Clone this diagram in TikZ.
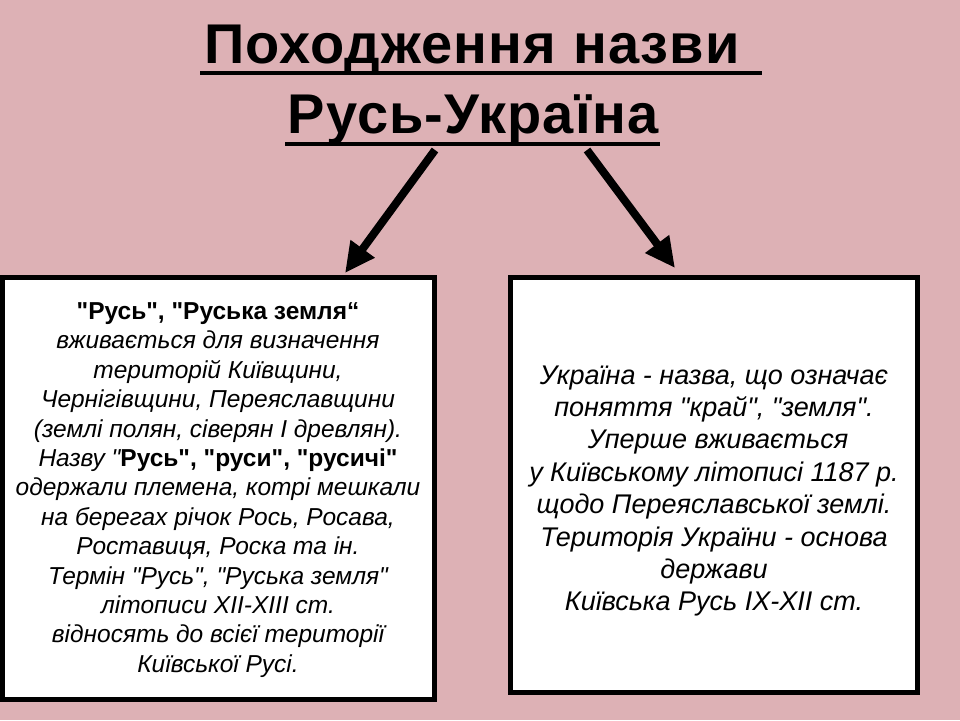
\documentclass[tikz,border=0pt]{standalone}
\usepackage{fontspec}
\setmainfont{Liberation Sans}[Ligatures=TeXOff]
\newfontfamily\titlefont{Liberation Sans}[Ligatures=TeXOff,LetterSpace=2]
\usetikzlibrary{arrows.meta}
\definecolor{bgpink}{RGB}{221,177,181}
\begin{document}
\begin{tikzpicture}[x=1pt,y=-1pt,
  box/.style={draw=black,line width=5pt,fill=white,outer sep=0pt,inner sep=0pt},
  titletext/.style={inner sep=0pt,anchor=base,font=\titlefont\fontsize{56}{70}\selectfont\bfseries},
  uline/.style={line width=4pt,black},
  leftbody/.style={align=center,inner sep=0pt,font=\fontsize{24.5}{29.4}\selectfont\itshape},
  rightbody/.style={align=center,inner sep=0pt,font=\fontsize{27}{32.4}\selectfont\itshape},
  bigarrow/.style={line width=8pt,-{Triangle[length=30pt,width=28pt]}}
]
\fill[bgpink] (0,0) rectangle (960,720);
\useasboundingbox (0,0) rectangle (960,720);

\node[titletext] (t1) at (472,63) {Походження назви};
\node[titletext] (t2) at (473,133) {Русь-Україна};
\draw[uline] (200,73) -- (762,73);
\draw[uline] (285,144) -- (660,144);

\node[box,minimum width=432pt,minimum height=422.5pt] (lbox) at (218.5,488.25) {};
\node[box,minimum width=407.5pt,minimum height=414.5pt] (rbox) at (713.75,484.75) {};

\node[leftbody] (ltext) at (218,490) {%
{\upshape\bfseries "Русь", "Руська земля“}\\
вживається для визначення\\
територій Київщини,\\
Чернігівщини, Переяславщини\\
(землі полян, сіверян І древлян).\\
Назву "{\upshape\bfseries Русь", "руси", "русичі"}\\
одержали племена, котрі мешкали\\
на берегах річок Рось, Росава,\\
Роставиця, Роска та ін.\\
Термін "Русь", "Руська земля"\\
літописи XII-XIII ст.\\
відносять до всієї території\\
Київської Русі.};

\node[rightbody] (rtext) at (714,491) {%
Україна - назва, що означає\\
поняття "край", "земля".\\
\hspace*{8pt}Уперше вживається\\
у Київському літописі 1187 р.\\
щодо Переяславської землі.\\
Територія України - основа\\
держави\\
Київська Русь IX-XII ст.};

\coordinate (ls) at (435,150);
\coordinate (le) at (345,273);
\coordinate (rs) at (587,150);
\coordinate (re) at (675,268);
\draw[bigarrow] (ls) -- (le);
\draw[bigarrow] (rs) -- (re);
\end{tikzpicture}
\end{document}
